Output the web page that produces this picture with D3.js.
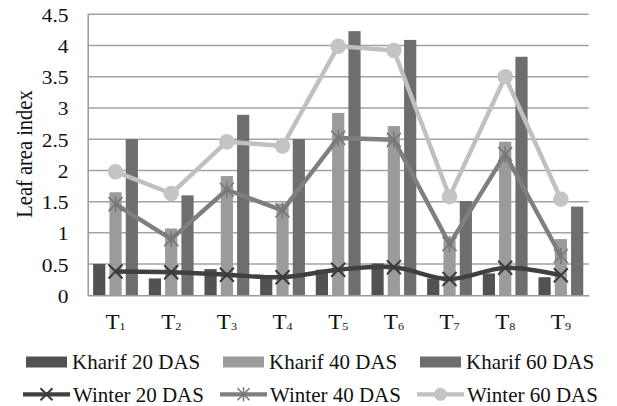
<!DOCTYPE html>
<html><head><meta charset="utf-8">
<script src="https://cdn.jsdelivr.net/npm/d3@7"></script>
<style>html,body{margin:0;padding:0;background:#fff;}svg{display:block;}</style>
</head><body>
<script>
const categories = ["T1","T2","T3","T4","T5","T6","T7","T8","T9"];
const subs = ["1","2","3","4","5","6","7","8","9"];
const kharif20 = [0.50,0.27,0.42,0.28,0.41,0.51,0.27,0.35,0.29];
const kharif40 = [1.65,1.07,1.91,1.47,2.92,2.71,0.88,2.46,0.90];
const kharif60 = [2.50,1.60,2.89,2.50,4.23,4.09,1.51,3.82,1.42];
const winter20 = [0.38,0.37,0.33,0.29,0.41,0.45,0.26,0.44,0.32];
const winter40 = [1.46,0.90,1.69,1.36,2.52,2.49,0.82,2.26,0.63];
const winter60 = [1.98,1.63,2.46,2.39,3.99,3.92,1.58,3.50,1.54];
const yTicks = [0,0.5,1,1.5,2,2.5,3,3.5,4,4.5];
const barSeries = [
  {name:"Kharif 20 DAS", values:kharif20, color:"#525252"},
  {name:"Kharif 40 DAS", values:kharif40, color:"#9b9b9b"},
  {name:"Kharif 60 DAS", values:kharif60, color:"#6e6e6e"}
];
const lineSeries = [
  {name:"Winter 20 DAS", values:winter20, color:"#404040", marker:"x", mcolor:"#3a3a3a", smooth:true},
  {name:"Winter 40 DAS", values:winter40, color:"#7f7f7f", marker:"star", mcolor:"#777777", smooth:false},
  {name:"Winter 60 DAS", values:winter60, color:"#c0c0c0", marker:"circle", mcolor:"#c4c4c4", smooth:false}
];

const W = 617, H = 406;
const FONT = "'Liberation Serif','DejaVu Serif',serif";
const SX = 1.1, SXL = 1.05;
const TXT = "#111";
const svg = d3.select("body").append("svg").attr("width",W).attr("height",H);

const x = d3.scaleBand().domain(categories).range([87.7,588.7]).paddingInner(0).paddingOuter(0);
const xs = d3.scaleBand().domain(barSeries.map(s=>s.name)).range([0,x.bandwidth()]).paddingInner(0.252).paddingOuter(0.333);
const y = d3.scaleLinear().domain([0,4.5]).range([295.3,14.3]);

// gridlines
svg.append("g").selectAll("line").data(yTicks.filter(d=>d>0)).join("line")
  .attr("x1",87.7).attr("x2",588.7).attr("y1",d=>y(d)).attr("y2",d=>y(d))
  .attr("stroke","#a3a3a3").attr("stroke-width",1.5);

// y axis
const yAxis = d3.axisLeft(y).tickValues(yTicks).tickSize(0).tickPadding(0).tickFormat(d3.format(""));
const gy = svg.append("g").attr("transform","translate(87.7,0)").call(yAxis);
gy.attr("font-family",FONT);
gy.select(".domain").attr("stroke","#999").attr("stroke-width",1.5);
gy.selectAll(".tick text")
   .attr("x",null).attr("dy",null).attr("y",null)
   .attr("transform",`translate(${68.5-87.7},${7}) scale(${SX},1)`)
   .attr("font-family",FONT).attr("font-size",19.5).attr("fill",TXT).attr("text-anchor","end");

// bars
const gb = svg.append("g");
barSeries.forEach(s=>{
  gb.append("g").selectAll("rect").data(categories).join("rect")
    .attr("x",(c)=>x(c)+xs(s.name))
    .attr("width",xs.bandwidth())
    .attr("y",(c,i)=>y(s.values[i]))
    .attr("height",(c,i)=>y(0)-y(s.values[i]))
    .attr("fill",s.color);
});

// x axis
const xAxis = d3.axisBottom(x).tickSize(0).tickPadding(0).tickFormat("");
const gx = svg.append("g").attr("transform",`translate(0,${y(0)})`).call(xAxis);
gx.attr("font-family",FONT);
gx.select(".domain").attr("stroke","#999").attr("stroke-width",1.5);
gx.selectAll(".tick").each(function(d,i){
  const t = d3.select(this).select("text");
  t.attr("y",null).attr("dy",null)
   .attr("transform",`translate(0,${329-295.3}) scale(${SX},1)`)
   .attr("font-family",FONT).attr("font-size",21).attr("fill",TXT).attr("text-anchor","middle")
   .text(null);
  t.append("tspan").text("T");
  t.append("tspan").attr("font-size",11).attr("dy",1).text(subs[i]);
});

// markers
function drawMarker(g, type, cx, cy, color, size){
  if(type==="x"){
    const r=size/2;
    g.append("path").attr("d",`M${cx-r},${cy-r}L${cx+r},${cy+r}M${cx-r},${cy+r}L${cx+r},${cy-r}`)
      .attr("stroke",color).attr("stroke-width",2).attr("fill","none");
  } else if(type==="star"){
    const r=size/2;
    g.append("path").attr("d",`M${cx-r},${cy-r}L${cx+r},${cy+r}M${cx-r},${cy+r}L${cx+r},${cy-r}M${cx},${cy-r-1}L${cx},${cy+r+1}`)
      .attr("stroke",color).attr("stroke-width",1.6).attr("fill","none");
  } else {
    g.append("circle").attr("cx",cx).attr("cy",cy).attr("r",size/2).attr("fill",color);
  }
}

const cx = c => x(c)+x.bandwidth()/2;
lineSeries.forEach(s=>{
  const g = svg.append("g");
  const line = d3.line().x((d,i)=>cx(categories[i])).y(d=>y(d))
    .curve(s.smooth ? d3.curveCatmullRom.alpha(0) : d3.curveLinear);
  g.append("path").attr("d",line(s.values)).attr("fill","none")
    .attr("stroke",s.color).attr("stroke-width",4.4).attr("stroke-linejoin","round");
  s.values.forEach((v,i)=>{
    drawMarker(g, s.marker, cx(categories[i]), y(v), s.mcolor, s.marker==="circle"?15.5:14);
  });
});

// legend
const lg = svg.append("g");
const colX = [24, 221, 418];
barSeries.forEach((s,i)=>{
  const x0 = colX[i];
  lg.append("rect").attr("x",x0+2).attr("y",356.5).attr("width",41).attr("height",11).attr("fill",s.color);
  lg.append("text").attr("transform",`translate(${x0+48},368.5) scale(${SXL},1)`)
    .attr("font-family",FONT).attr("font-size",20).attr("fill",TXT).text(s.name);
});
lineSeries.forEach((s,i)=>{
  const x0 = colX[i];
  lg.append("line").attr("x1",x0-1).attr("x2",x0+46).attr("y1",394.3).attr("y2",394.3)
    .attr("stroke",s.color).attr("stroke-width",4.2);
  drawMarker(lg, s.marker, x0+22.5, 394.3, s.mcolor, s.marker==="circle"?13:12);
  lg.append("text").attr("transform",`translate(${x0+49},401.5) scale(${SXL},1)`)
    .attr("font-family",FONT).attr("font-size",20).attr("fill",TXT).text(s.name);
});

// y title
svg.append("text").attr("transform","translate(31.5,154) scale(1.1,1) rotate(-90)")
  .attr("font-family",FONT).attr("font-size",20.5).attr("fill",TXT).attr("text-anchor","middle")
  .text("Leaf area index");
</script>
</body></html>
